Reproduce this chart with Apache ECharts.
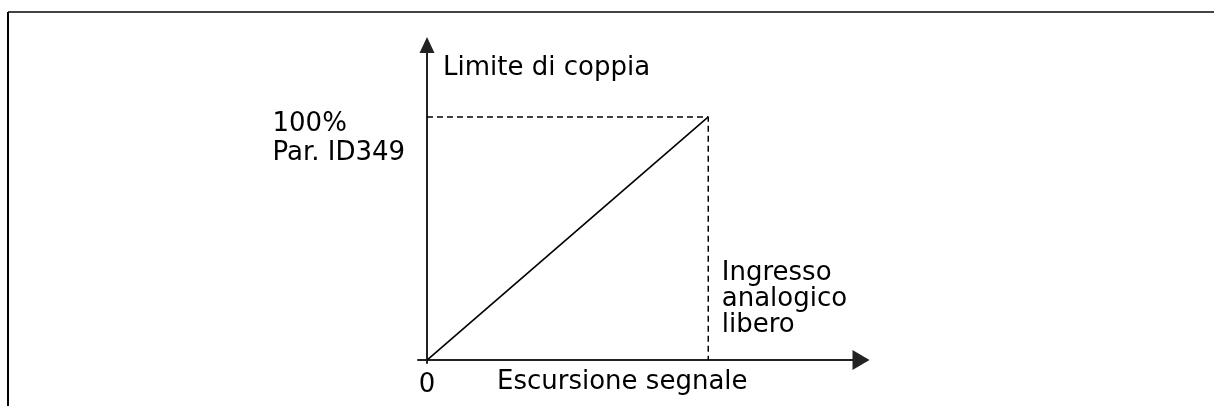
<!DOCTYPE html>
<html>
<head>
<meta charset="utf-8">
<script src="https://cdn.jsdelivr.net/npm/echarts@6/dist/echarts.min.js"></script>
<style>
  html, body { margin: 0; padding: 0; background: #fff; }
  #chart { width: 1214px; height: 406px; }
</style>
</head>
<body>
<div id="chart"></div>
<script>
// segnale (asse x) e limite di coppia (asse y), scala 0..1
const signal = [0, 1];
const torque = [0, 1];
// linee tratteggiate al 100%
const guideX = [0, 1, 1];
const guideY = [1, 1, 0];
// etichette
const xTicks = [0];
const xTickLabels = ['0'];
const yMaxLabel = ['100%', 'Par. ID349'];
const inputLabel = ['Ingresso', 'analogico', 'libero'];
const xName = 'Escursione segnale';
const yName = 'Limite di coppia';

const FONT = 'DejaVu Sans';
const FS = 26;

const myChart = echarts.init(document.getElementById('chart'), null, { renderer: 'canvas' });

const option = {
  animation: false,
  textStyle: { fontFamily: FONT },
  grid: { left: 418, right: 353, top: 45, bottom: 43 },
  graphic: [
    // cornice
    { type: 'line', shape: { x1: 8, y1: 12, x2: 1214, y2: 12 }, style: { stroke: '#444', lineWidth: 2 } },
    { type: 'line', shape: { x1: 8, y1: 12, x2: 8, y2: 406 }, style: { stroke: '#000', lineWidth: 2 } }
  ],
  xAxis: {
    type: 'value',
    min: -0.032,
    max: 1.543,
    splitLine: { show: false },
    axisTick: { show: false },
    axisLine: {
      onZero: true,
      symbol: ['none', 'triangle'],
      symbolSize: [20, 17],
      lineStyle: { color: '#222', width: 2 }
    },
    axisLabel: {
      customValues: xTicks,
      formatter: function (v) { return xTickLabels[xTicks.indexOf(v)] || ''; },
      margin: 9,
      fontSize: FS,
      fontFamily: FONT,
      color: '#000'
    },
    name: xName,
    nameLocation: 'start',
    nameGap: -79,
    nameTextStyle: {
      fontSize: FS,
      fontFamily: FONT,
      color: '#000',
      align: 'left',
      verticalAlign: 'top',
      padding: [9, 0, 0, 0]
    }
  },
  yAxis: {
    type: 'value',
    min: -0.012,
    max: 1.296,
    splitLine: { show: false },
    axisTick: { show: false },
    axisLabel: { show: false },
    axisLine: {
      onZero: true,
      symbol: ['none', 'triangle'],
      symbolSize: [15, 16],
      lineStyle: { color: '#222', width: 2 }
    },
    name: yName,
    nameLocation: 'end',
    nameGap: -10,
    nameTextStyle: {
      fontSize: FS,
      fontFamily: FONT,
      color: '#000',
      align: 'left',
      verticalAlign: 'top',
      padding: [0, 0, 0, 16]
    }
  },
  series: [
    {
      type: 'line',
      data: signal.map((x, i) => [x, torque[i]]),
      showSymbol: false,
      lineStyle: { color: '#000', width: 1.6 },
      z: 3
    },
    {
      type: 'line',
      data: guideX.map((x, i) => [x, guideY[i]]),
      showSymbol: false,
      lineStyle: { color: '#000', width: 1.5, type: [6, 4] },
      markPoint: {
        symbol: 'circle',
        symbolSize: 1,
        itemStyle: { color: 'rgba(0,0,0,0)' },
        label: {
          show: true,
          fontSize: FS,
          fontFamily: FONT,
          color: '#000',
          align: 'left',
          verticalAlign: 'top'
        },
        data: [
          {
            coord: [0, 1],
            label: { formatter: yMaxLabel.join('\n'), position: [-154, -7], lineHeight: 29 }
          },
          {
            coord: [1, 0],
            label: { formatter: inputLabel.join('\n'), position: [14, -99], lineHeight: 26 }
          }
        ]
      }
    }
  ]
};

myChart.setOption(option);
window.onresize = function () {
  myChart.resize();
};
</script>
</body>
</html>
